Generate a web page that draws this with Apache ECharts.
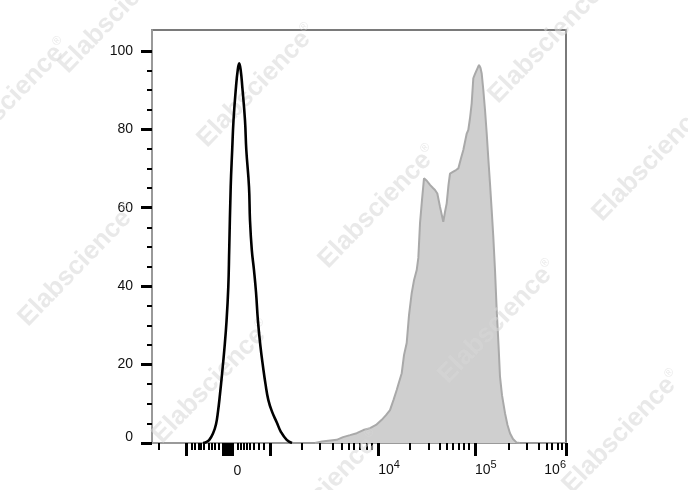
<!DOCTYPE html>
<html><head><meta charset="utf-8">
<script src="https://cdn.jsdelivr.net/npm/echarts@6/dist/echarts.min.js"></script>
<style>html,body{margin:0;padding:0;background:#fff}#c{width:688px;height:490px}</style>
</head><body><div id="c"></div>
<script>
// Isotype control histogram (display channel, % of max)
const isoX = [123.2,130.4,138.4,147.3,154.6,159.4,164.3,169.1,174.6,180.0,184.3,186.5,190.1,193.7,196.9,202.9,207.0,210.6,214.3,218.1,224.6,227.8,234.3,236.7,241.1,246.4,251.2,256.0,262.1,268.1,274.2,280.9,289.9,301.2,311.6,325.4,338.2];
const isoY = [0,0.2,0.8,2.4,4.8,8,12.5,17.5,23.7,31,39.8,49.2,65.3,74.7,82.3,90.8,95,96.8,95,90.8,82.3,74.7,65.3,56.8,49.2,44,38.5,31,24.5,19.5,15,11,8,5.3,2.8,0.8,0];
// Stained sample histogram
const stainX = [393.7,410.6,446.2,461.4,478.3,494.5,510.4,526.6,541.1,554.9,565.2,574.9,583.4,591.1,596.6,603.2,608.7,615.2,620.8,627.3,632.9,639.4,643.3,647.4,652.2,657.0,664.3,671.5,678.7,683.6,689.2,695.7,703.6,707.7,711.8,716.2,719.8,727.8,734.3,739.9,746.4,752.0,760.2,764.0,768.1,772.2,776.1,780.2,784.3,789.9,793.5,796.4,800.3,804.4,808.5,812.3,816.4,820.5,824.4,828.5,832.6,837.0,840.6,845.4,852.7,858.7,864.7,872.0,880.9,888.9];
const stainY = [0,0.4,0.8,1.5,2.0,2.5,3.3,3.8,4.6,5.9,7.1,8.4,11,13.5,15.5,17.8,22.4,25.5,32.6,38.2,41.5,44.1,47.2,56.1,62,67.5,66.8,65.8,65.0,64.5,63.6,60.2,56.4,58.9,61.1,65.8,68.7,69.2,69.6,70.0,72.6,74.7,78.9,79.8,82.8,86.6,93.0,94.1,94.6,96.4,95.6,94.2,90,84.9,78.9,72.6,66.2,59.4,52.6,44.1,33.9,25.0,16.9,12.2,7.6,4.6,2.5,1.0,0.1,0];
// Axis ticks and labels
const yMajorTicks = [0,20,40,60,80,100];
const yMinorTicks = [5,10,15,25,30,35,45,50,55,65,70,75,85,90,95];
const xMajorTicks = [83.8,172.7,176.3,179.9,183.6,187.2,190.8,194.4,285.0,546.6,780.2,1000];
const xMinorTicks = [15.2,95.9,103.9,111.8,117.6,123.9,136.0,144.2,152.2,160.1,206.0,214.3,222.2,228.7,236.7,246.4,256.8,268.8,361.6,405.8,436.5,458.2,474.2,487.9,502.4,518.6,530.7,623.2,667.4,695.7,711.8,725.4,739.9,752.0,764.0,860.7,905.1,933.1,953.4,965.5,979.1,989.7];
const xLabelPos = [187.2,546.6,780.2,1000];
const xLabelBase = ['0','10','10','10'];
const xLabelExp = ['','4','5','6'];

const FONT = 'Liberation Sans, Arial, sans-serif';
const wmPos = [[118,12],[257,86],[548,42],[10,100],[378,207],[652,160],[78,265],[498,322],[212,382],[622,432],[322,492]];

const chart = echarts.init(document.getElementById('c'), null, {renderer:'canvas'});
chart.setOption({
  animation:false,
  backgroundColor:'#fff',
  grid:{left:152,right:122,top:30,bottom:47,show:true,borderColor:'#7a7a7a',borderWidth:2,backgroundColor:'transparent'},
  xAxis:[
    {type:'value',min:0,max:1000,
     axisLine:{show:true,lineStyle:{color:'#9a9a9a',width:2}},
     axisTick:{show:true,customValues:xMajorTicks,length:13,lineStyle:{color:'#000',width:3}},
     axisLabel:{show:true,customValues:xLabelPos,align:'left',alignMaxLabel:'right',margin:20,
       formatter:function(v){
         let i=0,best=1e9;
         xLabelPos.forEach((p,k)=>{if(Math.abs(p-v)<best){best=Math.abs(p-v);i=k;}});
         if(!xLabelExp[i]) return '{z|'+xLabelBase[i]+'}';
         return '{n|'+xLabelBase[i]+'}{s|'+xLabelExp[i]+'}';
       },
       rich:{
         n:{fontSize:14,lineHeight:14,fontFamily:FONT,color:'#111',verticalAlign:'bottom'},
         s:{fontSize:11,lineHeight:11,fontFamily:FONT,color:'#111',padding:[0,0,7,0],verticalAlign:'bottom'},
         z:{fontSize:14,lineHeight:14,fontFamily:FONT,color:'#111',padding:[3,0,0,4]}
       }},
     splitLine:{show:false}},
    {type:'value',min:0,max:1000,position:'bottom',
     axisLine:{show:false},
     axisTick:{show:true,customValues:xMinorTicks,length:7,lineStyle:{color:'#000',width:2}},
     axisLabel:{show:false},splitLine:{show:false}}
  ],
  yAxis:[
    {type:'value',min:0,max:105.3,
     axisLine:{show:true,lineStyle:{color:'#999',width:2}},
     axisTick:{show:true,customValues:yMajorTicks,length:11,lineStyle:{color:'#000',width:3}},
     axisLabel:{show:true,customValues:yMajorTicks,margin:19,fontSize:14,fontFamily:FONT,color:'#111',
       formatter:function(v){return v===0?'{z|0}':String(v);},
       rich:{z:{fontSize:14,fontFamily:FONT,color:'#111',padding:[0,0,12,0]}}},
     splitLine:{show:false}},
    {type:'value',min:0,max:105.3,position:'left',
     axisLine:{show:false},
     axisTick:{show:true,customValues:yMinorTicks,length:5,lineStyle:{color:'#000',width:2}},
     axisLabel:{show:false},splitLine:{show:false}}
  ],
  graphic:wmPos.map(p=>({type:'text',x:p[0],y:p[1],rotation:46*Math.PI/180,z:5,silent:true,
    style:{text:'{a|Elabscience}{r|®}',align:'center',verticalAlign:'middle',
      rich:{a:{fontSize:26,fontWeight:'bold',fontFamily:FONT,fill:'rgba(215,215,215,0.55)'},
            r:{fontSize:12,fontFamily:FONT,fill:'rgba(215,215,215,0.55)',padding:[0,0,14,0]}}}})),
  series:[
    {type:'line',name:'stained',xAxisIndex:0,yAxisIndex:0,data:stainX.map((x,i)=>[x,stainY[i]]),
     symbol:'none',z:2,lineStyle:{color:'#a9a9a9',width:2},areaStyle:{color:'#cfcfcf',opacity:1}},
    {type:'line',name:'isotype',xAxisIndex:0,yAxisIndex:0,data:isoX.map((x,i)=>[x,isoY[i]]),
     symbol:'none',z:10,smooth:0.45,lineStyle:{color:'#000',width:2.6}}
  ]
});
</script></body></html>
